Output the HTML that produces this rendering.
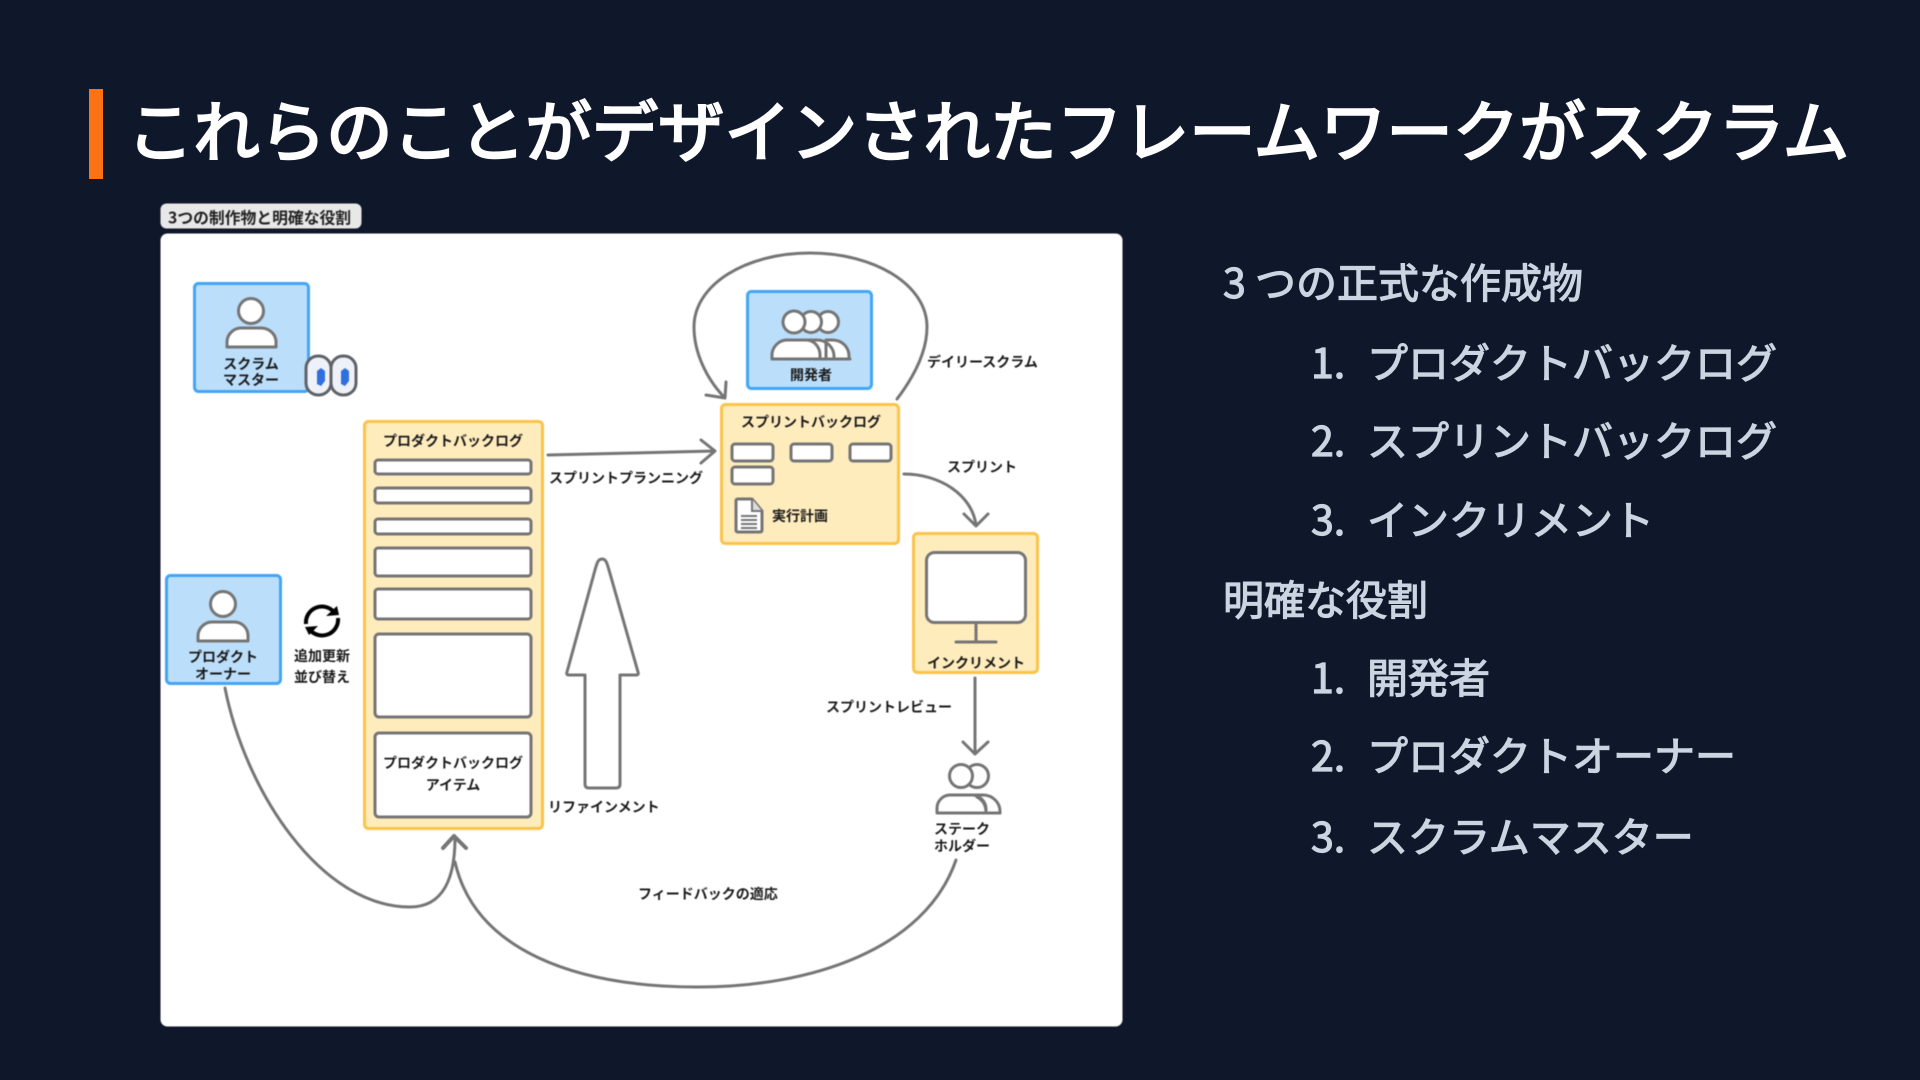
<!DOCTYPE html>
<html lang="ja"><head><meta charset="utf-8"><title>スクラム</title>
<style>
html,body{margin:0;padding:0;background:#0f172a;width:1920px;height:1080px;overflow:hidden}
svg{display:block;position:absolute;left:0;top:0}
text{font-family:"Noto Sans CJK JP","Liberation Sans",sans-serif;dominant-baseline:central}
.t{font-size:14px;font-weight:700;fill:#1a1a1a;text-anchor:middle}
.s{font-size:14px;font-weight:700;fill:#1a1a1a}
.b{font-size:41px;font-weight:400;fill:#cbd5e1;stroke:#cbd5e1;stroke-width:1.2px}
.r{fill:#fff;stroke:#757575;stroke-width:3}
.y{fill:#ffecbd;stroke:#fbc349;stroke-width:3}
.u{fill:#bbdefb;stroke:#42a5f5;stroke-width:3}
.l{fill:none;stroke:#757575;stroke-width:3;stroke-linecap:round;stroke-linejoin:round}
.p{fill:#fff;stroke:#757575;stroke-width:3;stroke-linejoin:round}
.d{filter:blur(.45px)}
</style></head><body>
<svg width="1920" height="1080" viewBox="0 0 1920 1080" xmlns="http://www.w3.org/2000/svg">
<rect width="1920" height="1080" fill="#0f172a"/>
<rect x="89" y="89" width="14" height="90" fill="#f97316"/>
<text x="127" y="128" style="font-size:66.4px;font-weight:400;fill:#fff;stroke:#fff;stroke-width:2.4px">これらのことがデザインされたフレームワークがスクラム</text>

<g class="d">
<rect x="160.5" y="203.5" width="201" height="25" rx="6" fill="#e8e8e8"/>
<text x="168" y="217" style="font-size:15.8px;font-weight:700;fill:#222">3つの制作物と明確な役割</text>
<rect x="160.5" y="233.5" width="962" height="793" rx="7" fill="#fff"/>

<!-- Scrum master -->
<rect class="u" x="194.5" y="283.5" width="114" height="108" rx="4"/>
<circle class="p" cx="251" cy="311" r="12.5"/>
<path class="p" d="M227 347v-5c0-8 7-14 14-14h20c8 0 15 6 15 14v5z"/>
<text class="t" x="251" y="364">スクラム</text>
<text class="t" x="251" y="380">マスター</text>
<rect x="306" y="356" width="25" height="39" rx="12" fill="#eef1f8" stroke="#5f6368" stroke-width="3"/>
<rect x="331" y="356" width="25" height="39" rx="12" fill="#eef1f8" stroke="#5f6368" stroke-width="3"/>
<path d="M317 371l4-3 4 3v10l-4 5-4-2z" fill="#2f6fe0"/>
<path d="M341 371l4-3 4 3v10l-4 5-4-2z" fill="#2f6fe0"/>

<!-- Product backlog -->
<rect class="y" x="364.5" y="421.5" width="178" height="407" rx="4"/>
<text class="t" x="453" y="441">プロダクトバックログ</text>
<rect class="r" x="375" y="460" width="156" height="14" rx="3"/>
<rect class="r" x="375" y="488" width="156" height="15" rx="3"/>
<rect class="r" x="375" y="519" width="156" height="15" rx="3"/>
<rect class="r" x="375" y="548" width="156" height="28" rx="3"/>
<rect class="r" x="375" y="589" width="156" height="30" rx="3"/>
<rect class="r" x="375" y="634" width="156" height="83" rx="4"/>
<rect class="r" x="375" y="733" width="156" height="84" rx="4"/>
<text class="t" x="453" y="763">プロダクトバックログ</text>
<text class="t" x="453" y="785">アイテム</text>

<!-- Product owner -->
<rect class="u" x="166.5" y="575.5" width="114" height="108" rx="4"/>
<circle class="p" cx="223" cy="604" r="12.5"/>
<path class="p" d="M198 641v-5c0-8 7-14 14-14h22c8 0 14 6 14 14v5z"/>
<text class="t" x="223" y="657">プロダクト</text>
<text class="t" x="223" y="674">オーナー</text>
<path d="M306 624a16 16 0 0 1 28-12M338 618a16 16 0 0 1-28 12" fill="none" stroke="#000" stroke-width="4"/>
<path d="M326 616l13-1-2-9zM318 626l-13 1 4 8z" fill="#000"/>
<text class="t" x="322" y="656">追加更新</text>
<text class="t" x="322" y="677">並び替え</text>

<!-- Refinement arrow -->
<path class="p" d="M602 559C606 559 607 563 609 570L638 672Q639 675 636 675H620V784Q620 788 616 788H589Q585 788 585 784V675H569Q566 675 567 672L595 570C597 563 598 559 602 559Z"/>
<text class="s" x="548" y="807">リファインメント</text>

<!-- Sprint planning -->
<path class="l" d="M548 455L714 451M701 440L715 451L701 463"/>
<text class="s" x="549" y="478">スプリントプランニング</text>

<!-- Developers -->
<rect class="u" x="747.5" y="291.5" width="124" height="97" rx="4"/>
<path class="p" d="M826 359v-19h6c11 0 17 8 17 16v3zM803 359v-19h14c10 0 17 8 17 16v3z"/>
<path class="p" d="M772 359v-4c0-8 7-15 15-15h19c8 0 14 7 14 15v4z"/>
<circle class="p" cx="828" cy="322" r="10.5"/>
<circle class="p" cx="811" cy="322" r="10.5"/>
<circle class="p" cx="794" cy="322" r="11"/>
<path class="l" d="M772 359H850"/>
<text class="t" x="811" y="375">開発者</text>

<!-- Daily loop -->
<path class="l" d="M897 399C916 374 927 350 927 327C927 285 875 253 810 253C745 253 694 285 694 327C694 352 706 378 724 397"/>
<path class="l" d="M706 395L725 398L726 382"/>
<text class="s" x="927" y="362">デイリースクラム</text>

<!-- Sprint backlog -->
<rect class="y" x="721.5" y="404.5" width="177" height="139" rx="4"/>
<text class="t" x="811" y="422">スプリントバックログ</text>
<rect class="r" x="732" y="444" width="41" height="17" rx="3"/>
<rect class="r" x="791" y="444" width="41" height="17" rx="3"/>
<rect class="r" x="850" y="444" width="41" height="17" rx="3"/>
<rect class="r" x="732" y="467" width="41" height="17" rx="3"/>
<path class="p" d="M736 501Q736 499 738 499H752L762 511V530Q762 532 760 532H738Q736 532 736 530Z"/>
<path d="M752 499V511H762" fill="#ddd" stroke="#757575" stroke-width="2"/>
<path d="M741 516H757M741 520H757M741 524H757M741 528H757" stroke="#757575" stroke-width="2"/>
<text class="s" x="772" y="516">実行計画</text>

<!-- Sprint arrow -->
<path class="l" d="M904 474C940 474 972 495 976 525"/>
<path class="l" d="M964 514L976 526L988 514"/>
<text class="t" x="982" y="467">スプリント</text>

<!-- Increment -->
<rect class="y" x="913.5" y="533.5" width="124" height="139" rx="4"/>
<rect class="r" x="926.5" y="552.5" width="99" height="70" rx="8"/>
<path class="l" d="M976 623V642M956 642H996"/>
<text class="t" x="976" y="663">インクリメント</text>

<!-- Review arrow -->
<path class="l" d="M975 678V754M963 742L975 754L988 742"/>
<text class="s" x="826" y="707">スプリントレビュー</text>

<!-- Stakeholder -->
<path class="l" d="M960 795H983C993 795 1000 803 1000 811V813M977 797C984 801 986 806 986 813"/>
<circle cx="977" cy="776" r="11.5" class="l" style="fill:#fff"/>
<circle cx="961" cy="776" r="11.5" class="l" style="fill:#fff"/>
<path class="l" d="M937 813V808C937 801 943 795 950 795H972C980 795 986 802 986 809V813ZM937 813H1000"/>
<text class="t" x="962" y="829">ステーク</text>
<text class="t" x="962" y="846">ホルダー</text>

<!-- Feedback curves -->
<path class="l" d="M956 860C925 950 810 987 698 987C575 987 475 950 455 862"/>
<path class="l" d="M225 688C245 790 320 907 410 907C445 907 455 875 455 838"/>
<path class="l" d="M443 848L454 836L466 848" style="stroke-width:4"/>
<text class="s" x="638" y="894">フィードバックの適応</text>
</g>

<!-- Right text -->
<text class="b" x="1223" y="280">3 つの正式な作成物</text>
<text class="b" x="1311" y="360">1.</text><text class="b" x="1367" y="360">プロダクトバックログ</text>
<text class="b" x="1311" y="438">2.</text><text class="b" x="1367" y="438">スプリントバックログ</text>
<text class="b" x="1311" y="517">3.</text><text class="b" x="1367" y="517">インクリメント</text>
<text class="b" x="1223" y="597">明確な役割</text>
<text class="b" x="1311" y="675">1.</text><text class="b" x="1367" y="675">開発者</text>
<text class="b" x="1311" y="753">2.</text><text class="b" x="1367" y="753">プロダクトオーナー</text>
<text class="b" x="1311" y="834">3.</text><text class="b" x="1367" y="834">スクラムマスター</text>
</svg>
</body></html>
